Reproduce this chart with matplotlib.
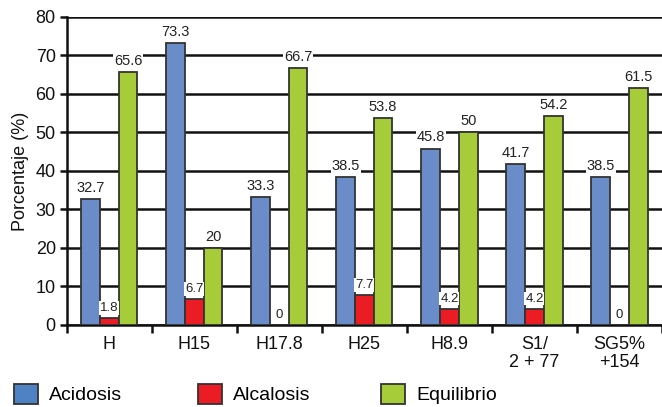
import numpy as np
import matplotlib.pyplot as plt
from matplotlib.patches import Patch

plt.rcParams['font.family'] = ['Liberation Sans', 'DejaVu Sans']

grupos = ["H", "H15", "H17.8", "H25", "H8.9", "S1/\n2 + 77", "SG5%\n+154"]
acidosis = [32.7, 73.3, 33.3, 38.5, 45.8, 41.7, 38.5]
alcalosis = [1.8, 6.7, 0, 7.7, 4.2, 4.2, 0]
equilibrio = [65.6, 20, 66.7, 53.8, 50, 54.2, 61.5]
series = ["Acidosis", "Alcalosis", "Equilibrio"]
colores = ["#6a8cc8", "#ec1c24", "#a6cd39"]
colores_leyenda = ["#4f82c4", "#ec1c24", "#a6cd39"]

fig = plt.figure(figsize=(6.62, 4.07), dpi=100)
ax = fig.add_axes([0.101, 0.2015, 0.899, 0.757])

x = np.arange(len(grupos))
w = 0.22
for i, (vals, col) in enumerate(zip([acidosis, alcalosis, equilibrio], colores)):
    pos = x + (i - 1) * w
    ax.bar(pos, vals, w, color=col, edgecolor="#333333", linewidth=1.3, zorder=3)
    small = i == 1
    for p, v in zip(pos, vals):
        txt = f"{v:g}"
        ax.annotate(txt, (p, v), xytext=(0, 3), textcoords="offset points",
                    ha="center", va="bottom", fontsize=9.5 if small else 10.5,
                    color="#222222", zorder=4,
                    bbox=dict(facecolor="white", edgecolor="none", pad=0.6))

ax.set_ylim(0, 80)
ax.set_xlim(-0.5, 6.34)
ax.set_yticks(range(0, 81, 10))
ax.yaxis.grid(True, color="#111111", linewidth=1.8, zorder=0)
ax.set_axisbelow(True)
ax.tick_params(axis="y", labelsize=13, length=5, width=1.8, pad=3, colors="#111111")

ax.set_xticks(np.arange(-0.5, 6.6, 1))
ax.set_xticklabels([])
ax.set_xticks(x, minor=True)
ax.set_xticklabels(grupos, minor=True, fontsize=13, linespacing=1.1)
ax.tick_params(axis="x", which="major", length=6, width=1.8, colors="#111111")
ax.tick_params(axis="x", which="minor", length=0, pad=8, labelcolor="#111111")

for s in ["top", "right"]:
    ax.spines[s].set_visible(False)
for s in ["left", "bottom"]:
    ax.spines[s].set_linewidth(1.8)
    ax.spines[s].set_color("#111111")

ax.set_ylabel("Porcentaje (%)", fontsize=13, labelpad=5, color="#111111")

# leyenda en tres bloques separados
xs = [0.012, 0.29, 0.567]
for xp, nom, col in zip(xs, series, colores_leyenda):
    h = Patch(facecolor=col, edgecolor="#333333", linewidth=1.3)
    fig.legend([h], [nom], loc="lower left", bbox_to_anchor=(xp, -0.008),
               frameon=False, fontsize=14, handlelength=1.25, handleheight=1.25,
               handletextpad=0.55, borderaxespad=0.1, borderpad=0.2)

fig.savefig("out.png", dpi=100)
